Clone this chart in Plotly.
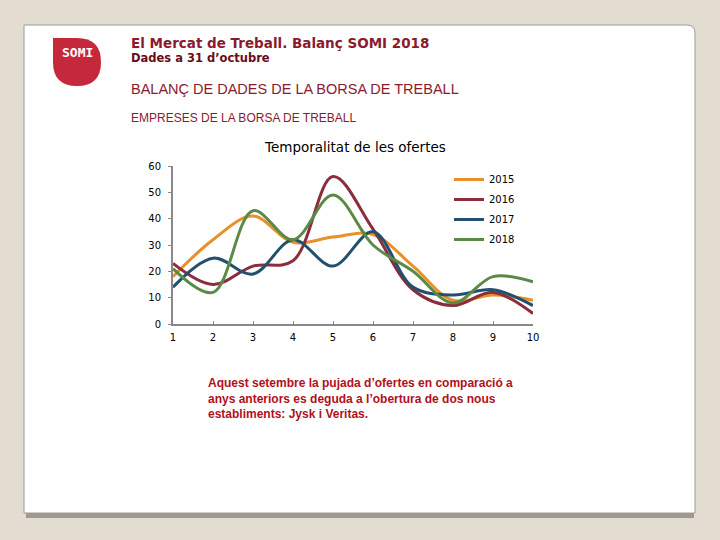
import plotly.graph_objects as go

# Data
months = [1, 2, 3, 4, 5, 6, 7, 8, 9, 10]
years = ['2015', '2016', '2017', '2018']
values_2015 = [18, 32, 41, 31, 33, 34, 22, 9, 11, 9]
values_2016 = [23, 15, 22, 24, 56, 36, 13, 7, 12, 4]
values_2017 = [14, 25, 19, 32, 22, 35, 14, 11, 13, 7]
values_2018 = [21, 12, 43, 32, 49, 30, 20, 8, 18, 16]
y_ticks = [0, 10, 20, 30, 40, 50, 60]

COLOURS = ['#E8902A', '#8B2D3D', '#22506E', '#5B8A47']
BG = '#E3DDD1'
DARK_RED = '#8B1A2E'
W, H = 720, 540


def px(x):
    return x / W


def py(y):
    return 1 - y / H


fig = go.Figure()
for name, vals, col in zip(years, [values_2015, values_2016, values_2017, values_2018], COLOURS):
    fig.add_trace(go.Scatter(x=months, y=vals, mode='lines', name=name,
                             line={'color': col, 'width': 3, 'shape': 'spline', 'smoothing': 1.0},
                             legendgroup=name))

# slide card (rounded top-right corner) + shadow
card_path = (f'M {px(24)} {py(25)} L {px(687)} {py(25)} '
             f'Q {px(695)} {py(25)} {px(695)} {py(33)} '
             f'L {px(695)} {py(513)} L {px(24)} {py(513)} Z')
shapes = [
    dict(type='rect', xref='paper', yref='paper', x0=px(26), x1=px(694), y0=py(518), y1=py(508),
         fillcolor='#A09A92', line={'width': 0}, layer='below'),
    dict(type='path', xref='paper', yref='paper', path=card_path,
         fillcolor='white', line={'color': '#9A9A9A', 'width': 1}, layer='below'),
    # SOMI logo: drop shape
    dict(type='path', xref='paper', yref='paper', layer='below',
         path=(f'M {px(53)} {py(38)} L {px(77)} {py(38)} '
               f'Q {px(101)} {py(38)} {px(101)} {py(62)} '
               f'Q {px(101)} {py(86)} {px(77)} {py(86)} '
               f'Q {px(53)} {py(86)} {px(53)} {py(62)} Z'),
         fillcolor='#C4283A', line={'width': 0}),
]

annotations = [
    dict(text='<b>El Mercat de Treball. Balanç SOMI 2018</b>', x=px(129), y=py(43), xanchor='left',
         yanchor='middle', font={'family': 'DejaVu Sans', 'size': 13.5, 'color': DARK_RED}),
    dict(text='<b>Dades a 31 d’octubre</b>', x=px(129), y=py(58), xanchor='left', yanchor='middle',
         font={'family': 'DejaVu Sans', 'size': 11.5, 'color': '#6B0A1A'}),
    dict(text='BALANÇ DE DADES DE LA BORSA DE TREBALL', x=px(129), y=py(89), xanchor='left', yanchor='middle',
         font={'family': 'Liberation Sans', 'size': 14.5, 'color': DARK_RED}),
    dict(text='EMPRESES DE LA BORSA DE TREBALL', x=px(129), y=py(118), xanchor='left', yanchor='middle',
         font={'family': 'Liberation Sans', 'size': 12, 'color': DARK_RED}),
    dict(text='Temporalitat de les ofertes', x=px(355), y=py(147), xanchor='center', yanchor='middle',
         font={'family': 'DejaVu Sans', 'size': 13.5, 'color': 'black'}),
    dict(text='<b>SOMI</b>', x=px(77), y=py(52), xanchor='center', yanchor='middle',
         font={'family': 'DejaVu Sans Mono', 'size': 13, 'color': 'white'}),
    dict(text='<b>Aquest setembre la pujada d’ofertes en comparació a<br>'
              'anys anteriors es deguda a l’obertura de dos nous<br>'
              'establiments: Jysk i Veritas.</b>',
         x=px(206), y=py(374), xanchor='left', yanchor='top', align='left',
         font={'family': 'Liberation Sans', 'size': 12, 'color': '#B01020'}),
]
for a in annotations:
    a.update(xref='paper', yref='paper', showarrow=False)

fig.update_layout(
    width=W, height=H,
    margin={'l': 0, 'r': 0, 't': 0, 'b': 0, 'pad': 0, 'autoexpand': False},
    paper_bgcolor=BG, plot_bgcolor='rgba(0,0,0,0)',
    shapes=shapes, annotations=annotations,
    showlegend=True,
    legend={'x': px(449), 'y': py(165), 'xanchor': 'left', 'yanchor': 'top',
            'bgcolor': 'rgba(0,0,0,0)', 'font': {'family': 'DejaVu Sans', 'size': 10, 'color': 'black'},
            'tracegroupgap': 1, 'traceorder': 'grouped'},
    xaxis={'domain': [px(173), px(533)], 'range': [1, 10], 'tickvals': months,
           'showgrid': False, 'zeroline': False, 'showline': True, 'linecolor': '#888888', 'linewidth': 2,
           'ticks': 'inside', 'ticklen': 3, 'tickcolor': '#888888', 'ticklabelstandoff': 3,
           'tickfont': {'family': 'DejaVu Sans', 'size': 10, 'color': 'black'}},
    yaxis={'domain': [py(324), py(166)], 'range': [0, 60], 'tickvals': y_ticks,
           'showgrid': False, 'zeroline': False, 'showline': True, 'linecolor': '#888888', 'linewidth': 2,
           'ticks': 'outside', 'ticklen': 3, 'tickcolor': '#888888', 'ticklabelstandoff': 5,
           'tickfont': {'family': 'DejaVu Sans', 'size': 10, 'color': 'black'}},
)

page_css = ("document.documentElement.style.margin='0';"
            "document.documentElement.style.overflow='hidden';"
            "document.body.style.margin='0';"
            "document.body.style.overflow='hidden';"
            "document.body.style.background='#E3DDD1';")
fig.write_html('out.html', config={'displayModeBar': False}, post_script=page_css)
